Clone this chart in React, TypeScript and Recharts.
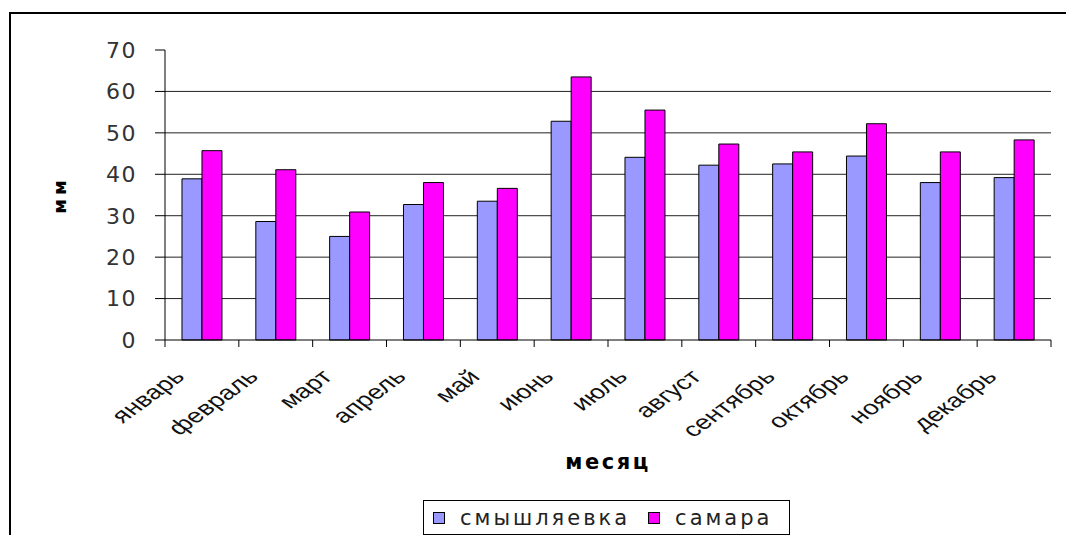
import React from 'react';
import { BarChart, Bar, XAxis, YAxis, CartesianGrid, Legend } from 'recharts';

// Monthly precipitation, mm
const months = [
  'январь', 'февраль', 'март', 'апрель', 'май', 'июнь',
  'июль', 'август', 'сентябрь', 'октябрь', 'ноябрь', 'декабрь',
];
const smyshlyaevka = [38.9, 28.6, 25.0, 32.7, 33.5, 52.8, 44.1, 42.2, 42.5, 44.4, 38.0, 39.2];
const samara = [45.7, 41.1, 30.9, 38.0, 36.6, 63.5, 55.5, 47.3, 45.4, 52.2, 45.4, 48.3];
const seriesNames = ['смышляевка', 'самара'];
const seriesColors = ['#9999FF', '#FF00FF'];
const yTicks = [0, 10, 20, 30, 40, 50, 60, 70];
const gridLines = [10, 20, 30, 40, 50, 60];
const yLabel = 'мм';
const xLabel = 'месяц';

const data = months.map((month, i) => ({
  month,
  smy: smyshlyaevka[i],
  sam: samara[i],
}));

const FONT = '"DejaVu Sans", Arial, sans-serif';
const LABEL_FONT = '"Liberation Sans", Arial, sans-serif';
const TICK_LEN = 7;

// Month label plus the tick marks on the band boundaries
const MonthTick = (props: any) => {
  const { x, y, payload, index, visibleTicksCount } = props;
  const half = payload.offset ?? 0;
  const isLast = index === visibleTicksCount - 1;
  return (
    <g>
      <line x1={x - half} x2={x - half} y1={y} y2={y + TICK_LEN} stroke="#000" />
      {isLast && <line x1={x + half} x2={x + half} y1={y} y2={y + TICK_LEN} stroke="#000" />}
      <g transform={`translate(${x - 16},${y + 38})`}>
        <text
          x={0}
          y={0}
          textAnchor="end"
          transform="scale(1.38,1) rotate(-45)"
          fontFamily={LABEL_FONT}
          fontSize={20}
          fill="#111"
        >
          {payload.value}
        </text>
      </g>
    </g>
  );
};

const LegendBox = () => (
  <div
    style={{
      boxSizing: 'border-box',
      width: 367,
      height: 35,
      border: '1px solid #000',
      background: '#fff',
      display: 'flex',
      alignItems: 'center',
      paddingLeft: 9,
      fontFamily: FONT,
      fontSize: 21,
      letterSpacing: 3,
      color: '#222',
      whiteSpace: 'nowrap',
    }}
  >
    {seriesNames.map((name, i) => (
      <span key={name} style={{ display: 'flex', alignItems: 'center', marginRight: 18 }}>
        <span
          style={{
            display: 'inline-block',
            width: 10,
            height: 10,
            border: '1px solid #000',
            background: seriesColors[i],
            marginRight: 15,
          }}
        />
        {name}
      </span>
    ))}
  </div>
);

export default function App() {
  return (
    <div style={{ position: 'absolute', left: 0, top: 0, width: 1100, height: 535, background: '#fff', overflow: 'hidden' }}>
      <div
        style={{
          position: 'absolute',
          left: 9,
          top: 12,
          width: 1200,
          height: 700,
          borderLeft: '2px solid #000',
          borderTop: '2px solid #000',
        }}
      />
      <div style={{ position: 'absolute', left: 0, top: 0 }}>
        <BarChart
          width={1066}
          height={535}
          data={data}
          margin={{ top: 50, right: 15, bottom: 0, left: 0 }}
          barCategoryGap="23%"
          barGap={0}
        >
          <CartesianGrid
            vertical={false}
            horizontalValues={gridLines}
            stroke="#222"
            strokeWidth={1}
          />
          <XAxis
            dataKey="month"
            interval={0}
            height={195}
            tickSize={0}
            tickMargin={0}
            axisLine={{ stroke: '#000' }}
            tickLine={false}
            tick={<MonthTick />}
            label={{
              value: xLabel,
              position: 'insideTop',
              offset: 114,
              style: { fontFamily: FONT, fontSize: 21, fontWeight: 'bold', fill: '#000', letterSpacing: 2.5 },
            }}
          />
          <YAxis
            width={165}
            domain={[0, 70]}
            ticks={yTicks}
            interval={0}
            tickSize={10}
            tickMargin={18}
            tick={{ fontFamily: FONT, fontSize: 22, fill: '#333', letterSpacing: 1.5 }}
            tickLine={{ stroke: '#000' }}
            axisLine={{ stroke: '#000' }}
            label={{
              value: yLabel,
              angle: -90,
              position: 'center',
              dx: -23,
              style: { fontFamily: FONT, fontSize: 18, fontWeight: 'bold', fill: '#000', letterSpacing: 4 },
            }}
          />
          <Legend
            layout="horizontal"
            verticalAlign="middle"
            align="center"
            wrapperStyle={{ left: 423, top: 500, width: 367, height: 35 }}
            content={<LegendBox />}
          />
          <Bar
            dataKey="smy"
            name={seriesNames[0]}
            fill={seriesColors[0]}
            stroke="#000"
            strokeWidth={1}
            isAnimationActive={false}
          />
          <Bar
            dataKey="sam"
            name={seriesNames[1]}
            fill={seriesColors[1]}
            stroke="#000"
            strokeWidth={1}
            isAnimationActive={false}
          />
        </BarChart>
      </div>
    </div>
  );
}
